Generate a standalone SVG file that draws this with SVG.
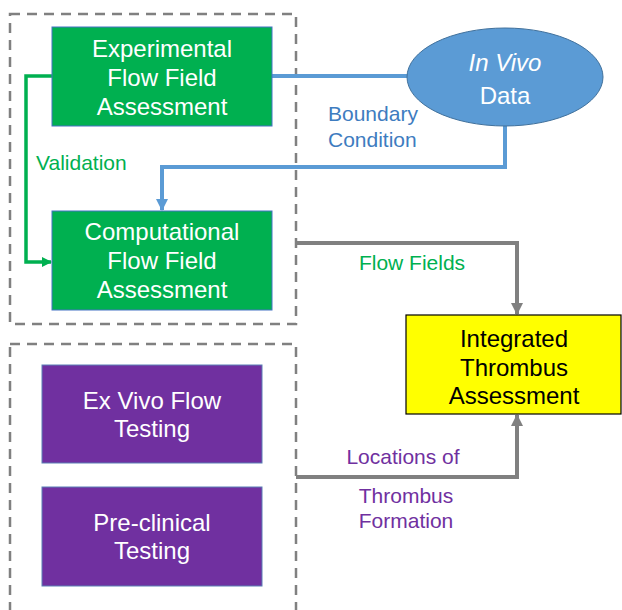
<svg xmlns="http://www.w3.org/2000/svg" width="622" height="610" viewBox="0 0 622 610">
<style>
text{font-family:"Liberation Sans",Arial,sans-serif;text-anchor:middle}
.box{font-size:24px;fill:#fff}
.lbl{font-size:21px}
.group{fill:none;stroke:#808080;stroke-width:2.5;stroke-dasharray:10,7}
.green{fill:#00B050;stroke:#4472C4;stroke-width:1}
.purple{fill:#7030A0;stroke:#5A7FB5;stroke-width:1}
</style>
<defs>
<marker id="ag" markerWidth="10" markerHeight="10" refX="9" refY="5" orient="auto" markerUnits="userSpaceOnUse"><path d="M0,0 L10,5 L0,10 Z" fill="#00B050"/></marker>
<marker id="ab" markerWidth="12" markerHeight="12" refX="11" refY="6" orient="auto" markerUnits="userSpaceOnUse"><path d="M0,0 L12,6 L0,12 Z" fill="#5B9BD5"/></marker>
<marker id="ay" markerWidth="12" markerHeight="12" refX="11" refY="6" orient="auto" markerUnits="userSpaceOnUse"><path d="M0,0 L12,6 L0,12 Z" fill="#808080"/></marker>
</defs>
<g id="groups">
<rect id="top-group" class="group" x="10" y="14" width="286" height="310"/>
<rect id="bottom-group" class="group" x="10" y="344" width="286" height="290"/>
</g>
<g id="connectors" fill="none">
<path d="M52,76 H26 V262 H51" stroke="#00B050" stroke-width="3.5" marker-end="url(#ag)"/>
<path d="M272,76 H408" stroke="#5B9BD5" stroke-width="4"/>
<path d="M505,126 V167 H162 V210" stroke="#5B9BD5" stroke-width="4" marker-end="url(#ab)"/>
<path d="M296,243 H517 V314" stroke="#808080" stroke-width="4" marker-end="url(#ay)"/>
<path d="M296,477 H517 V415" stroke="#808080" stroke-width="4" marker-end="url(#ay)"/>
</g>
<g id="experimental">
<rect class="green" x="52" y="27" width="220" height="99"/>
<text class="box" x="162" y="57">Experimental</text>
<text class="box" x="162" y="86">Flow Field</text>
<text class="box" x="162" y="115">Assessment</text>
</g>
<g id="computational">
<rect class="green" x="52" y="211" width="220" height="99"/>
<text class="box" x="162" y="240">Computational</text>
<text class="box" x="162" y="269">Flow Field</text>
<text class="box" x="162" y="298">Assessment</text>
</g>
<g id="invivo">
<ellipse cx="505" cy="77" rx="98" ry="49" fill="#5B9BD5" stroke="#41719C" stroke-width="1"/>
<text class="box" x="505" y="71" font-style="italic">In Vivo</text>
<text class="box" x="505" y="104">Data</text>
</g>
<g id="exvivo">
<rect class="purple" x="42" y="365" width="220" height="98"/>
<text class="box" x="152" y="409">Ex Vivo Flow</text>
<text class="box" x="152" y="437">Testing</text>
</g>
<g id="preclinical">
<rect class="purple" x="42" y="487" width="220" height="99"/>
<text class="box" x="152" y="531">Pre-clinical</text>
<text class="box" x="152" y="559">Testing</text>
</g>
<g id="integrated">
<rect x="406" y="315" width="215" height="99" fill="#FFFF00" stroke="#000" stroke-width="1.2"/>
<text class="box" x="514" y="347" fill="#000" style="fill:#000">Integrated</text>
<text class="box" x="514" y="376" style="fill:#000">Thrombus</text>
<text class="box" x="514" y="404" style="fill:#000">Assessment</text>
</g>
<g id="labels">
<text class="lbl" x="36" y="170" fill="#00B050" style="text-anchor:start">Validation</text>
<text class="lbl" x="328" y="121" fill="#3E7CC0" style="text-anchor:start">Boundary</text>
<text class="lbl" x="328" y="147" fill="#3E7CC0" style="text-anchor:start">Condition</text>
<text class="lbl" x="412" y="270" fill="#00B050">Flow Fields</text>
<text class="lbl" x="403" y="464" fill="#7030A0">Locations of</text>
<text class="lbl" x="406" y="503" fill="#7030A0">Thrombus</text>
<text class="lbl" x="406" y="528" fill="#7030A0">Formation</text>
</g>
</svg>
